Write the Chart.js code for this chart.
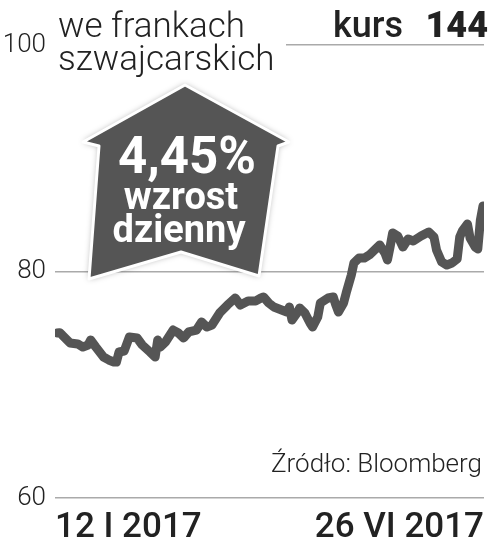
<!DOCTYPE html>
<html>
<head>
<meta charset="utf-8">
<script src="https://cdn.jsdelivr.net/npm/chart.js@4/dist/chart.umd.min.js"></script>
<style>
html,body{margin:0;padding:0;background:#fff;}
#wrap{width:493px;height:549px;position:relative;}
</style>
</head>
<body>
<div id="wrap"><canvas id="c" width="493" height="549"></canvas></div>
<script>
// Days since 12 I 2017
const days = [0,1,2,5,8,10,12,13,15,18,20,22,23,24,26,28,31,33,36,38,39,40,42,45,47,49,51,54,56,58,60,63,66,69,71,74,77,79,80,82,84,87,89,90,91,93,94,96,98,99,101,102,105,107,108,109,111,112,114,115,117,119,121,123,125,127,128,129,130,132,134,136,138,141,144,146,147,149,151,153,155,156,157,159,160,162,163,164,165];
// Exchange rate (CHF)
const values = [74.57,74.6,74.39,73.69,73.6,73.33,73.51,73.95,73.33,72.45,72.19,72.01,72.0,72.89,72.98,74.22,74.13,73.51,72.89,72.45,73.95,73.33,73.77,74.83,74.57,74.13,74.66,74.83,75.54,75.1,75.28,76.34,77.04,77.66,77.04,77.4,77.4,77.66,77.75,77.22,76.87,76.6,76.42,76.87,75.72,76.34,76.78,76.34,75.45,75.1,75.98,77.22,77.66,77.75,77.04,76.42,77.22,78.1,79.69,80.75,81.19,81.19,81.46,81.9,82.34,81.63,81.02,82.16,83.4,83.13,82.16,82.87,82.69,83.13,83.49,83.05,81.9,80.84,80.57,80.75,81.1,83.05,83.58,84.19,82.96,82.16,81.99,84.55,85.78];
const yTicks = [60, 80, 100];
const xLabels = ['12 I 2017', '26 VI 2017'];
const titleLines = ['we frankach', 'szwajcarskich'];
const rateLabel = 'kurs';
const rateValue = '144';
const badgeLines = ['4,45%', 'wzrost', 'dzienny'];
const sourceText = 'Źródło: Bloomberg';

const points = days.map((d, i) => ({x: d, y: values[i]}));

const deco = {
  id: 'deco',
  beforeDraw(chart) {
    const ctx = chart.ctx;
    ctx.save();
    ctx.fillStyle = '#fff';
    ctx.fillRect(0, 0, chart.width, chart.height);
    ctx.restore();
  },
  beforeDatasetsDraw(chart) {
    const ctx = chart.ctx;
    const y100 = chart.scales.y.getPixelForValue(100);
    ctx.save();
    ctx.fillStyle = '#fff';
    ctx.fillRect(50, y100 - 4, 236, 8);
    ctx.restore();
  },
  afterDraw(chart) {
    const ctx = chart.ctx;
    ctx.save();
    ctx.fillStyle = '#222';
    ctx.textBaseline = 'alphabetic';
    ctx.textAlign = 'left';
    ctx.font = '300 35px Roboto';
    ctx.fillText(titleLines[0], 58, 37);
    ctx.fillText(titleLines[1], 58, 70);
    ctx.font = '500 36px Roboto';
    ctx.fillText(rateLabel, 333, 37);
    ctx.font = '900 36px Roboto';
    ctx.textAlign = 'right';
    ctx.fillText(rateValue, 488, 37);
    ctx.font = '300 26px Roboto';
    ctx.fillText(sourceText, 482, 472);

    // badge arrow
    const pts = [[185,85],[289,142],[278,146],[259,276],[181,252],[89,279],[99,146],[83,142]];
    ctx.beginPath();
    pts.forEach((p, i) => i ? ctx.lineTo(p[0], p[1]) : ctx.moveTo(p[0], p[1]));
    ctx.closePath();
    ctx.shadowColor = 'rgba(0,0,0,0.35)';
    ctx.shadowBlur = 6;
    ctx.fillStyle = '#555';
    ctx.fill();
    ctx.shadowColor = 'transparent';
    ctx.lineJoin = 'round';
    ctx.lineWidth = 3;
    ctx.strokeStyle = '#fff';
    ctx.stroke();

    ctx.fillStyle = '#fff';
    ctx.textAlign = 'center';
    ctx.font = '700 51px Roboto';
    ctx.fillText(badgeLines[0], 187, 173);
    ctx.font = '700 38px Roboto';
    ctx.fillText(badgeLines[1], 181, 209);
    ctx.fillText(badgeLines[2], 179, 242);
    ctx.restore();
  }
};

new Chart(document.getElementById('c'), {
  type: 'line',
  data: {
    datasets: [{
      data: points,
      borderColor: '#555',
      borderWidth: 9,
      pointRadius: 0,
      borderJoinStyle: 'round',
      borderCapStyle: 'round',
      tension: 0,
      fill: false
    }]
  },
  options: {
    responsive: false,
    animation: false,
    events: [],
    layout: {padding: {top: 45, right: 5, left: 0, bottom: 0}},
    plugins: {legend: {display: false}, tooltip: {enabled: false}, title: {display: false}},
    scales: {
      x: {
        type: 'linear',
        min: -0.8,
        max: 165.4,
        grid: {display: false, drawTicks: false},
        border: {display: false},
        afterBuildTicks(scale) { scale.ticks = [{value: scale.min}, {value: scale.max}]; },
        afterFit(scale) { scale.height = 51; },
        ticks: {
          align: 'inner',
          autoSkip: false,
          maxRotation: 0,
          padding: 9,
          color: '#222',
          font: {family: 'Roboto', size: 35, weight: 500},
          callback: (v, i) => xLabels[i]
        }
      },
      y: {
        min: 60,
        max: 100,
        afterBuildTicks(scale) { scale.ticks = yTicks.map(v => ({value: v})); },
        afterFit(scale) { scale.width = 55; },
        grid: {color: '#aaa', lineWidth: 1.5, drawTicks: false},
        border: {display: false},
        ticks: {
          padding: 9,
          color: '#222',
          font: {family: 'Roboto', size: 26, weight: 300},
          callback: v => String(v)
        }
      }
    }
  },
  plugins: [deco]
});
</script>
</body>
</html>
